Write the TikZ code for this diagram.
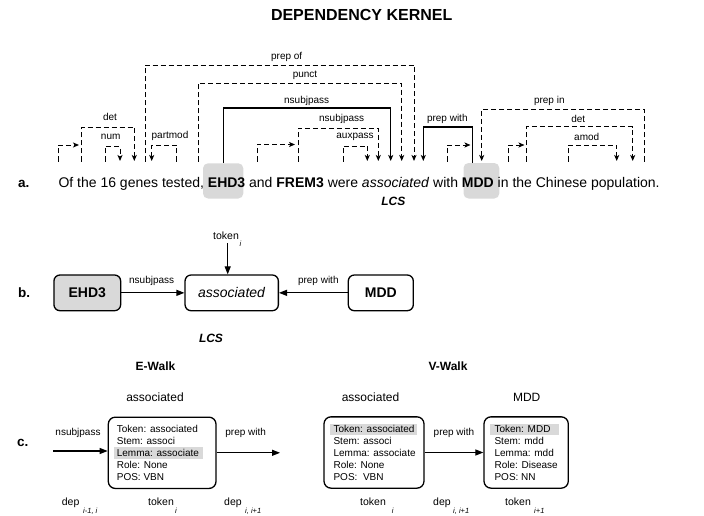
\documentclass[tikz,border=0pt]{standalone}
\usepackage{fontspec}
\setmainfont{Liberation Sans}
\usetikzlibrary{arrows.meta}
\newcommand\fsz[2]{\fontsize{#1}{#2}\selectfont}
\begin{document}
\begin{tikzpicture}[x=1pt,y=-1pt,
  depline/.style={line width=0.9pt, dash pattern=on 5pt off 3pt},
  solline/.style={line width=1.3pt},
  deptip/.style={-{Stealth[length=6pt,width=5pt,inset=1.5pt]}},
  lab/.style={font=\fsz{10}{12}, inner sep=0pt},
  hlbox/.style={fill=gray!30, rounded corners=5pt, inner sep=0pt},
  bbox/.style={draw, line width=1.3pt, rounded corners=6pt, minimum height=35.7pt, inner sep=0pt, font=\fsz{14}{16}},
  barrow/.style={line width=1.2pt, -{Triangle[length=8pt,width=6pt]}},
  cbox/.style={draw, line width=1.3pt, rounded corners=7pt, minimum height=71.3pt, inner sep=0pt},
  ctext/.style={font=\fsz{10}{12}, align=left, inner sep=0pt, anchor=west},
  hl/.style={fill=gray!30},
  wl/.style={font=\fsz{10.5}{12}, inner sep=0pt, anchor=base west},
  subl/.style={font=\fsz{7.5}{9}\itshape, inner sep=0pt, anchor=base west},
  plab/.style={font=\bfseries\fsz{13.5}{15}, inner sep=0pt, anchor=base west},
  lcs/.style={font=\bfseries\itshape\fsz{12}{14}, inner sep=0pt},
  head/.style={font=\fsz{12}{14}, inner sep=0pt},
  walk/.style={font=\bfseries\fsz{12}{14}, inner sep=0pt}]
\useasboundingbox (0,0) rectangle (704,516);

% title
\node[font=\bfseries\fsz{16}{18}, inner sep=0pt] (title) at (361.7,15) {DEPENDENCY KERNEL};

% ---------- panel a ----------
\node[plab] (pa) at (18,187.3) {a.};
\node[hlbox, minimum width=40.3pt, minimum height=35.2pt] (ehdhl) at (223.15,180.9) {};
\node[hlbox, minimum width=35.8pt, minimum height=35.5pt] (mddhl) at (481.4,180.75) {};
\node[font=\fsz{14}{16}, inner sep=0pt, anchor=base west] (sent) at (58.3,187.3)
  {Of the 16 genes tested, \textbf{EHD3} and \textbf{FREM3} were \textit{associated} with \textbf{MDD} in the Chinese population.};
\node[lcs] (alcs) at (393.3,201.7) {LCS};

\coordinate (of) at (58.3,161.5);
\coordinate (ofT) at (79,145);
\coordinate (the1) at (81.7,161.5);
\coordinate (gen1) at (134.3,161);
\coordinate (n16) at (105,161.5);
\coordinate (gen2) at (120,161);
\coordinate (gen3) at (145,161.5);
\coordinate (ass5) at (414,161);
\coordinate (tes) at (176,161.5);
\coordinate (gen4) at (151.7,161);
\coordinate (com) at (198.3,161.5);
\coordinate (ass4) at (401.7,161);
\coordinate (ass3) at (390.7,161);
\coordinate (and) at (257.3,161.5);
\coordinate (andT) at (295,144.5);
\coordinate (frem) at (298,161.5);
\coordinate (ass2) at (378.3,161);
\coordinate (were) at (343.3,161.5);
\coordinate (ass1) at (367.3,161);
\coordinate (ass6) at (423.3,161);
\coordinate (with) at (447.3,161.5);
\coordinate (withT) at (470.5,145);
\coordinate (mdd2) at (481.7,161);
\coordinate (pop3) at (644,161.5);
\coordinate (in) at (508.3,161.5);
\coordinate (inT) at (524.5,145);
\coordinate (the2) at (526.7,161.5);
\coordinate (pop2) at (632.7,161);
\coordinate (chi) at (568.3,161.5);
\coordinate (pop1) at (616.7,161);

\draw[depline,deptip] (of) |- (ofT);
\draw[depline,deptip] (the1) -- ++(0,-34.2) -| (gen1);
\draw[depline,deptip] (n16) -- ++(0,-14.8) -| (gen2);
\draw[depline,deptip] (gen3) -- ++(0,-96.5) -| (ass5);
\draw[depline,deptip] (tes) -- ++(0,-16.5) -| (gen4);
\draw[depline,deptip] (com) -- ++(0,-78.2) -| (ass4);
\draw[solline,deptip] (ehdhl.north) -- ++(0,-55) -| (ass3);
\draw[depline,deptip] (and) |- (andT);
\draw[depline,deptip] (frem) -- ++(0,-33.2) -| (ass2);
\draw[depline,deptip] (were) -- ++(0,-15.5) -| (ass1);
\draw[solline,deptip] ([xshift=-8.7pt]mddhl.north) -- ++(0,-35.7) -| (ass6);
\draw[depline,deptip] (with) |- (withT);
\draw[depline,deptip] (pop3) -- ++(0,-52.2) -| (mdd2);
\draw[depline,deptip] (in) |- (inT);
\draw[depline,deptip] (the2) -- ++(0,-34.8) -| (pop2);
\draw[depline,deptip] (chi) -- ++(0,-16.5) -| (pop1);

\node[lab] (ldet1) at (110,116.7) {det};
\node[lab] (lnum) at (110.7,136.7) {num};
\node[lab] (lprepof) at (286.7,57) {prep of};
\node[lab] (lpunct) at (305,75) {punct};
\node[lab] (lnsubj1) at (306.7,100.7) {nsubjpass};
\node[lab] (lnsubj2) at (341.7,119.3) {nsubjpass};
\node[lab] (lpartmod) at (170,136) {partmod};
\node[lab] (laux) at (355,136.7) {auxpass};
\node[lab] (lprepwith) at (447.3,119) {prep with};
\node[lab] (lprepin) at (549.3,100.7) {prep in};
\node[lab] (ldet2) at (578.3,119) {det};
\node[lab] (lamod) at (586.7,137) {amod};

% ---------- panel b ----------
\node[plab] (pb) at (18,297.3) {b.};
\node[bbox, fill=gray!30, minimum width=66.7pt] (bE) at (87.3,292.85) {\textbf{EHD3}};
\node[bbox, minimum width=93.3pt] (bA) at (231.7,292.85) {\textit{associated}};
\node[bbox, minimum width=65pt] (bM) at (380.8,292.85) {\textbf{MDD}};
\draw[barrow] (bE) -- (bA);
\draw[barrow] (bM) -- (bA);
\node[lab] (bl1) at (151.7,280.7) {nsubjpass};
\node[lab] (bl2) at (318.3,280.7) {prep with};
\node[wl] (btok) at (213,239.3) {token};
\node[subl] (btoks) at (239.5,246) {i};
\coordinate (btokc) at (227.7,243.3);
\draw[barrow] (btokc) -- (btokc |- bA.north);
\node[lcs] (blcs) at (211,338.3) {LCS};

% ---------- panel c ----------
\node[plab] (pc) at (17,446) {c.};
\node[walk] (ewalk) at (155.5,366.7) {E-Walk};
\node[walk] (vwalk) at (448,366.7) {V-Walk};
\node[head] (eh) at (155,397.3) {associated};
\node[head] (vh1) at (370.5,397.3) {associated};
\node[head] (vh2) at (526.7,397.3) {MDD};

\fill[hl] (114,447.3) rectangle (202.7,459.3);
\fill[hl] (330,424) rectangle (416.7,435);
\fill[hl] (490,424) rectangle (559.3,435);

\node[cbox, minimum width=107.7pt] (eB) at (162.15,452.8) {};
\node[ctext] (eT) at ([xshift=9pt]eB.west) {Token: associated\\Stem: associ\\Lemma: associate\\Role: None\\POS: VBN};
\node[cbox, minimum width=100pt] (v1) at (374,452.5) {};
\node[ctext] (v1T) at ([xshift=10pt]v1.west) {Token: associated\\Stem: associ\\Lemma: associate\\Role: None\\POS:\ \ VBN};
\node[cbox, minimum width=84.3pt] (v2) at (526.15,452.5) {};
\node[ctext] (v2T) at ([xshift=11pt]v2.west) {Token: MDD\\Stem: mdd\\Lemma: mdd\\Role: Disease\\POS: NN};

\coordinate (cin) at (53.3,451);
\coordinate (cout) at (280,452.8);
\draw[barrow] (cin) -- (cin -| eB.west);
\draw[barrow] (eB.east |- cout) -- (cout);
\draw[barrow] (v1.east) -- (v2.west);
\node[lab] (cl1) at (78,433.3) {nsubjpass};
\node[lab] (cl2) at (245.7,433.3) {prep with};
\node[lab] (cl3) at (454,433.3) {prep with};

\node[wl] (d1) at (61.7,505) {dep};
\node[subl] (d1s) at (83,513) {i-1, i};
\node[wl] (t1) at (148,505) {token};
\node[subl] (t1s) at (175,513) {i};
\node[wl] (d2) at (224,505) {dep};
\node[subl] (d2s) at (245,513) {i, i+1};
\node[wl] (t2) at (360,505) {token};
\node[subl] (t2s) at (391.7,513) {i};
\node[wl] (d3) at (433,505) {dep};
\node[subl] (d3s) at (453,513) {i, i+1};
\node[wl] (t3) at (505,505) {token};
\node[subl] (t3s) at (534,513) {i+1};
\end{tikzpicture}
\end{document}
